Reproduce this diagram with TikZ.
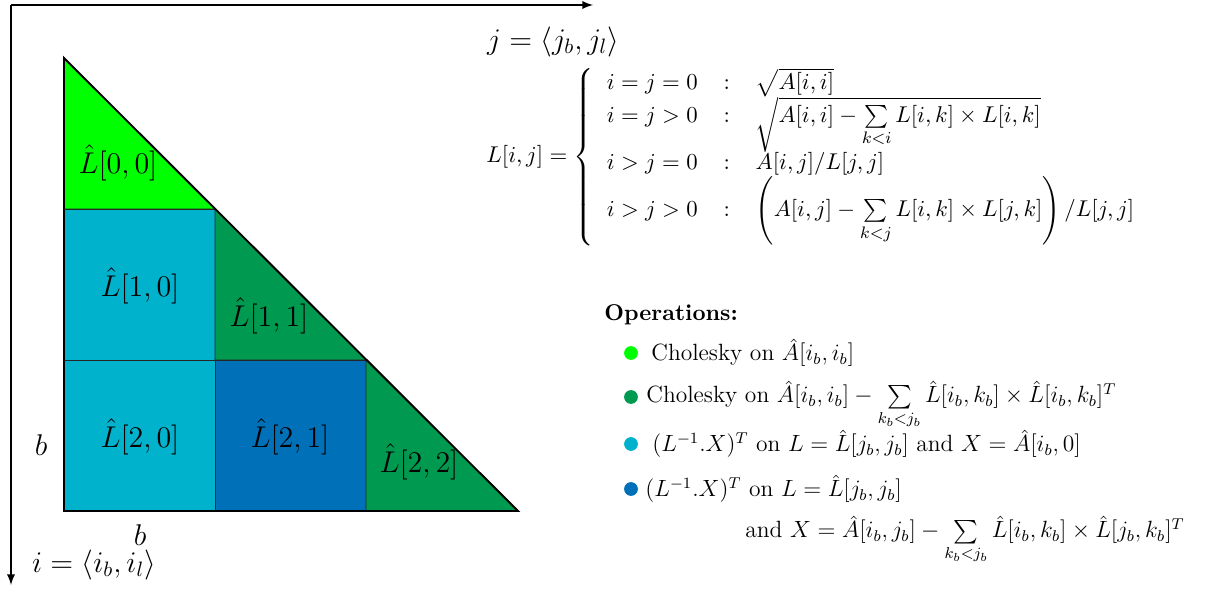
\documentclass[12pt,tikz,border=0pt]{standalone}
\usepackage{amsmath, amssymb}
\usetikzlibrary{arrows, positioning}

\definecolor{cholgreen}{RGB}{0,255,0}
\definecolor{updgreen}{RGB}{0,153,80}
\definecolor{trsmcyan}{RGB}{0,178,204}
\definecolor{gemmblue}{RGB}{0,112,184}
\newcommand{\opline}[1]{\scalebox{0.94}{#1}}

\begin{document}
\begin{tikzpicture}[x=0.48pt, y=-0.48pt, >=latex,
    blk/.style={draw=black!85, line width=0.45pt},
    lbl/.style={font=\large},
    opdot/.style={circle, inner sep=0pt, minimum size=6.6pt},
    optext/.style={anchor=base west, inner sep=0pt}]
    \useasboundingbox (0,0) rectangle (1212,593);

    % axes
    \coordinate (orig) at (11,5);
    \coordinate (jend) at (593,5);
    \coordinate (iend) at (11,585);
    \draw[->, line width=0.75pt] (orig) -- (jend);
    \draw[->, line width=0.75pt] (orig) -- (iend);

    % blocks of L
    \filldraw[blk, fill=cholgreen] (64,58) -- (64,209) -- (215,209) -- cycle;
    \filldraw[blk, fill=trsmcyan] (64,209) rectangle (215,360);
    \filldraw[blk, fill=updgreen] (215,209) -- (215,360) -- (366,360) -- cycle;
    \filldraw[blk, fill=trsmcyan] (64,360) rectangle (215,511);
    \filldraw[blk, fill=gemmblue] (215,360) rectangle (366,511);
    \filldraw[blk, fill=updgreen] (366,360) -- (366,511) -- (518,511) -- cycle;
    \draw[line width=0.9pt, line join=miter] (64,58) -- (64,511) -- (518,511) -- cycle;

    \node[lbl] (l00) at (118,163) {$\hat{L}[0,0]$};
    \node[lbl] (l10) at (140,286) {$\hat{L}[1,0]$};
    \node[lbl] (l11) at (269,316) {$\hat{L}[1,1]$};
    \node[lbl] (l20) at (140,437) {$\hat{L}[2,0]$};
    \node[lbl] (l21) at (290,437) {$\hat{L}[2,1]$};
    \node[lbl] (l22) at (419,462) {$\hat{L}[2,2]$};

    \node[lbl] (bi) at (41,445) {$b$};
    \node[lbl] (bj) at (140,535) {$b$};
    \node[lbl] (ilab) at (94,565) {$i = \langle i_b, i_l \rangle$};
    \node[lbl] (jlab) at (553,42) {$j = \langle j_b, j_l \rangle$};

    % recurrence
    \node[anchor=west, inner sep=0pt, font=\small] (rec) at (486,157) {\setlength{\arraycolsep}{6.2pt}\renewcommand{\arraystretch}{0.85}$L[i,j] = \left\{
        \begin{array}{lcl}
          i = j = 0 & : & \sqrt{A[i,i]}\\
          i = j > 0 & : & \sqrt{A[i,i] - \sum\limits_{k<i} L[i,k]\times L[i,k]}\\
          i > j = 0 & : & A[i,j]/L[j,j]\\
          i > j > 0 & : & \left(A[i,j] - \sum\limits_{k<j} L[i,k]\times L[j,k]\right)/L[j,j]
        \end{array}\right.$};

    % operations legend
    \node[optext, font=\small\bfseries] (ops) at (604,321) {Operations:};
    \node[opdot, fill=cholgreen] (d1) at (631,353) {};
    \node[opdot, fill=updgreen] (d2) at (631,397) {};
    \node[opdot, fill=trsmcyan] (d3) at (631,444) {};
    \node[opdot, fill=gemmblue] (d4) at (631,489) {};
    \node[optext] (op1) at (651,361) {\opline{Cholesky on $\hat{A}[i_b,i_b]$}};
    \node[optext] (op2) at (646,403) {\opline{Cholesky on $\hat{A}[i_b,i_b] - \sum\limits_{k_b<j_b}\hat{L}[i_b,k_b]\times\hat{L}[i_b,k_b]^T$}};
    \node[optext] (op3) at (652,452) {\opline{$(L^{-1}.X)^T$ on $L = \hat{L}[j_b,j_b]$ and $X = \hat{A}[i_b,0]$}};
    \node[optext] (op4) at (645,497) {\opline{$(L^{-1}.X)^T$ on $L = \hat{L}[j_b,j_b]$}};
    \node[optext] (op5) at (745,538) {\opline{and $X = \hat{A}[i_b,j_b] - \sum\limits_{k_b<j_b}\hat{L}[i_b,k_b]\times\hat{L}[j_b,k_b]^T$}};
\end{tikzpicture}
\end{document}
